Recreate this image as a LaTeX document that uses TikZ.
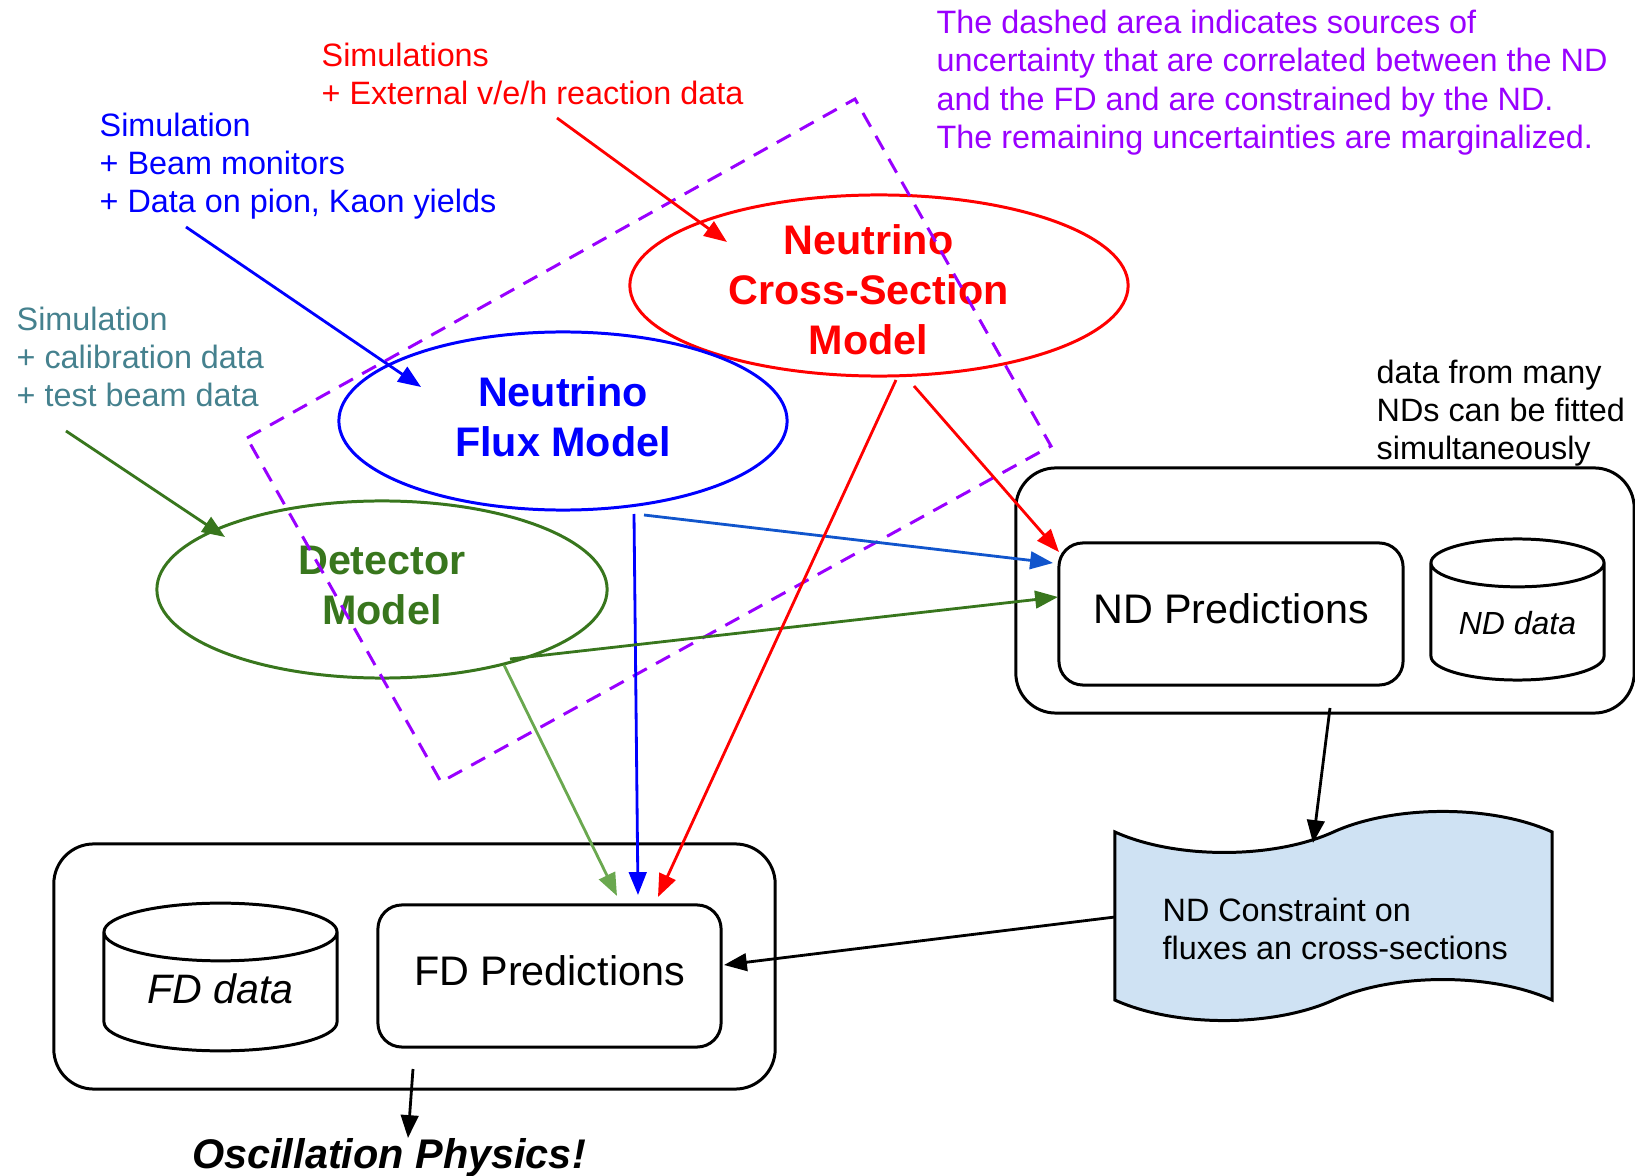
\documentclass[tikz,border=0pt]{standalone}
\usepackage{fontspec}
\setmainfont{Liberation Sans}
\usepackage{xcolor}
\usepackage{tikz}
\usetikzlibrary{positioning, arrows.meta, shapes.geometric, shapes.symbols, calc}
\definecolor{gdgreen}{HTML}{38761D}
\definecolor{gdlightgreen}{HTML}{6AA84F}
\definecolor{gdteal}{HTML}{45818E}
\definecolor{gdpurple}{HTML}{9900FF}
\definecolor{gdcorn}{HTML}{1155CC}
\definecolor{gdpaleblue}{HTML}{CFE2F3}
\newcommand{\padR}{\rule{0.21cm}{0pt}}

\begin{document}
\begin{tikzpicture}[
    x=0.01cm, y=-0.01cm,
    >={Triangle[length=6.5pt,width=5pt]},
    model/.style={draw=#1, text=#1, ellipse, line width=0.85pt, inner sep=0pt, inner ysep=-3pt, align=center, font=\fontsize{11.75}{14.2}\selectfont\bfseries},
    note/.style={text=#1, anchor=north west, inner sep=0pt, align=left, font=\fontsize{9.2}{10.9}\selectfont},
    container/.style={draw, line width=0.85pt, rounded corners=0.4cm},
    pred/.style={draw, line width=0.85pt, rounded corners=0.24cm, text depth=0.11cm, font=\fontsize{11.75}{14.2}\selectfont},
    store/.style={draw, cylinder, shape border rotate=90, aspect=0.34, anchor=shape center, line width=0.85pt},
    corr/.style={draw=gdpurple, line width=0.85pt, dash pattern=on 4.5pt off 3pt},
    link/.style={->, line width=0.8pt, draw=#1}
]
\useasboundingbox (0,0) rectangle (1635,1176);

% Models
\node[model=red, minimum width=4.98cm, minimum height=1.81cm] (xsec) at (879,285.5) {\rule{0pt}{11pt}Neutrino\padR\\Cross-Section\padR\\Model\padR};
\node[model=blue, minimum width=4.48cm, minimum height=1.78cm, text depth=0.08cm] (flux) at (563,421) {Neutrino\\Flux Model};
\node[model=gdgreen, minimum width=4.5cm, minimum height=1.77cm, text depth=0.08cm] (det) at (382,589.5) {Detector\\Model};

% Detectors
\node[container, minimum width=6.18cm, minimum height=2.45cm] (NDbox) at (1325,590.5) {};
\node[container, minimum width=7.21cm, minimum height=2.45cm] (FDbox) at (414.5,966.5) {};
\node[pred, minimum width=3.44cm, minimum height=1.42cm] (NDpred) at (1231,614) {ND Predictions};
\node[pred, minimum width=3.43cm, minimum height=1.42cm] (FDpred) at (549.5,976) {FD Predictions};
\node[store, minimum width=1.73cm, minimum height=1.41cm, text depth=0.1cm, font=\fontsize{9.1}{11}\selectfont\itshape] (NDdata) at (1517.5,609.5) {ND data};
\node[store, minimum width=2.33cm, minimum height=1.4cm, text depth=0.19cm, font=\fontsize{11.7}{14}\selectfont\itshape] (FDdata) at (220.5,977) {FD data};

% Constraint
\node[draw, tape, fill=gdpaleblue, line width=0.85pt, tape bend height=0.41cm, minimum width=4.37cm, minimum height=2.09cm] (NDconst) at (1333.5,916) {};
\node[note=black] (NDconstText) at (1162,897) {ND Constraint on\\fluxes an cross-sections};

% Inputs and notes
\node[note=red] (srcXsec) at (321,42) {Simulations\\+ External v/e/h reaction data};
\node[note=blue] (srcFlux) at (99,112) {Simulation\\+ Beam monitors\\+ Data on pion, Kaon yields};
\node[note=gdteal] (srcDet) at (16,306) {Simulation\\+ calibration data\\+ test beam data};
\node[note=black] (noteND) at (1376,359) {data from many\\NDs can be fitted\\simultaneously};
\node[note=gdpurple] (noteDash) at (936,9.5) {The dashed area indicates sources of\\uncertainty that are correlated between the ND\\and the FD and are constrained by the ND.\\The remaining uncertainties are marginalized.};
\node[anchor=base, inner sep=0pt, font=\fontsize{11.78}{14}\selectfont\bfseries\itshape] (osc) at (389,1168) {Oscillation Physics!};

\coordinate (xsecIn) at (557,118);
\coordinate (fluxIn) at (186,227);
\coordinate (detIn) at (66,431);

% Correlated area
\draw[corr] (247,438) -- (855,99) -- (1051,446) -- (441,782) -- cycle;

% Connections
\draw[link=red] (xsecIn) -- ($(xsec)+(-152,-43.5)$);
\draw[link=blue] (fluxIn) -- ($(flux)+(-142,-34)$);
\draw[link=gdgreen] (detIn) -- ($(det)+(-157,-52.5)$);
\draw[link=blue] ($(flux)+(71,93)$) -- ($(FDpred)+(88.5,-81)$);
\draw[link=gdcorn] ($(flux)+(81,94)$) -- ($(NDpred)+(-178,-51)$);
\draw[link=gdgreen] ($(det)+(128,69.5)$) -- ($(NDpred)+(-173,-17)$);
\draw[link=gdlightgreen] ($(det)+(122,75.5)$) -- ($(FDpred)+(67.5,-80)$);
\draw[link=red] ($(xsec)+(17,94.5)$) -- ($(FDpred)+(108.5,-79)$);
\draw[link=red] ($(xsec)+(35,100.5)$) -- ($(NDpred)+(-172,-62)$);
\draw[link=black] ($(NDbox)+(5,117.5)$) -- ($(NDconst)+(-20.5,-73)$);
\draw[link=black] ($(NDconst)+(-218.5,1)$) -- ($(FDpred)+(174.5,-11)$);
\draw[link=black] ($(FDbox)+(-1.5,102.5)$) -- ($(osc.base)+(19,-30)$);

\end{tikzpicture}
\end{document}
